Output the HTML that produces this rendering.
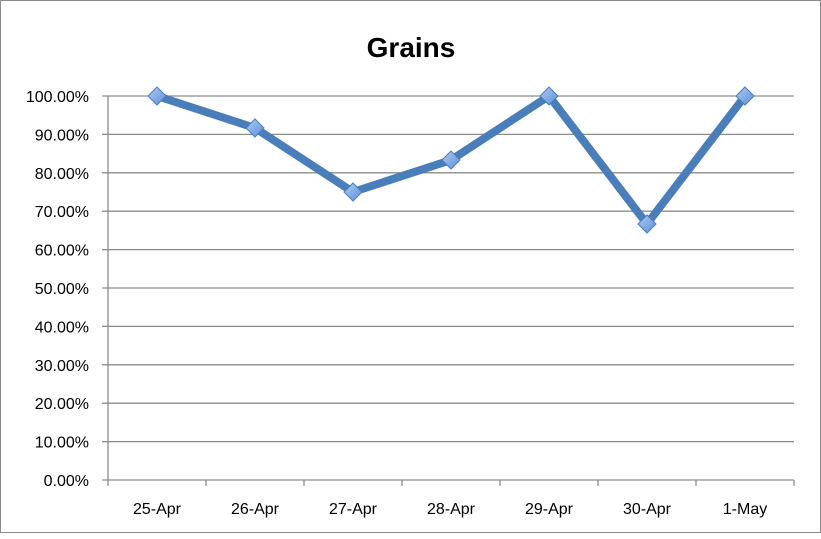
<!DOCTYPE html>
<html><head><meta charset="utf-8"><style>
body{margin:0;background:#fff}
svg text{font-family:"Liberation Sans",Arial,sans-serif}
</style></head><body>
<svg id="c" width="821" height="534" xmlns="http://www.w3.org/2000/svg">
<rect x="0.5" y="0.5" width="820" height="532" fill="#fff" stroke="#8c8c8c"/>
<text x="411" y="57" text-anchor="middle" font-size="28" font-weight="bold" fill="#000">Grains</text>
<defs><linearGradient id="mg" x1="0" y1="0" x2="1" y2="1"><stop offset="0" stop-color="#b0ccf2"/><stop offset="1" stop-color="#5a8ed8"/></linearGradient></defs>
<g id="grid"></g><g id="axes"></g><g id="series"></g>
</svg>
<script>
const categories=["25-Apr","26-Apr","27-Apr","28-Apr","29-Apr","30-Apr","1-May"];
const values=[100,91.67,75,83.33,100,66.67,100];
const yTicks=[0,10,20,30,40,50,60,70,80,90,100];
const yTickLabels=["0.00%","10.00%","20.00%","30.00%","40.00%","50.00%","60.00%","70.00%","80.00%","90.00%","100.00%"];
const NS="http://www.w3.org/2000/svg";
const L=108,R=794,T=96,B=480;
const bw=(R-L)/categories.length;
const x=i=>L+bw*(i+0.5);
const y=v=>B-(v/100)*(B-T);
function mk(t,a,p){const e=document.createElementNS(NS,t);for(const k in a)e.setAttribute(k,a[k]);p.appendChild(e);return e;}
const grid=document.getElementById('grid'),axes=document.getElementById('axes'),ser=document.getElementById('series');
yTicks.forEach((v,i)=>{
 const ln=mk('line',{x1:102,x2:R,y1:y(v),y2:y(v),stroke:'#8c8c8c','stroke-width':1.3},grid);
 
 
 const t=mk('text',{x:89,y:y(v)+6,'text-anchor':'end','font-size':16,fill:'#000'},axes);
 t.textContent=yTickLabels[i];
 
 
});
const ya=mk('line',{x1:L,x2:L,y1:T,y2:B,stroke:'#8c8c8c','stroke-width':1.3},axes);


for(let i=0;i<=categories.length;i++){
 const tk=mk('line',{x1:L+bw*i,x2:L+bw*i,y1:B,y2:B+6,stroke:'#8c8c8c','stroke-width':1.3},axes);
 
 
}
categories.forEach((c,i)=>{
 const t=mk('text',{x:x(i),y:514,'text-anchor':'middle','font-size':16,fill:'#000'},axes);
 t.textContent=c;
 
 
});
const pl=mk('polyline',{points:values.map((v,i)=>x(i)+','+y(v)).join(' '),fill:'none',stroke:'#4a7ebb','stroke-width':8,'stroke-linejoin':'round'},ser);


values.forEach((v,i)=>{
 const cx=x(i),cy=y(v),s=9;
 const m=mk('polygon',{points:`${cx},${cy-s} ${cx+s},${cy} ${cx},${cy+s} ${cx-s},${cy}`,fill:'url(#mg)',stroke:'#4a7ebb','stroke-width':1},ser);
 
 
});
</script>
</body></html>
